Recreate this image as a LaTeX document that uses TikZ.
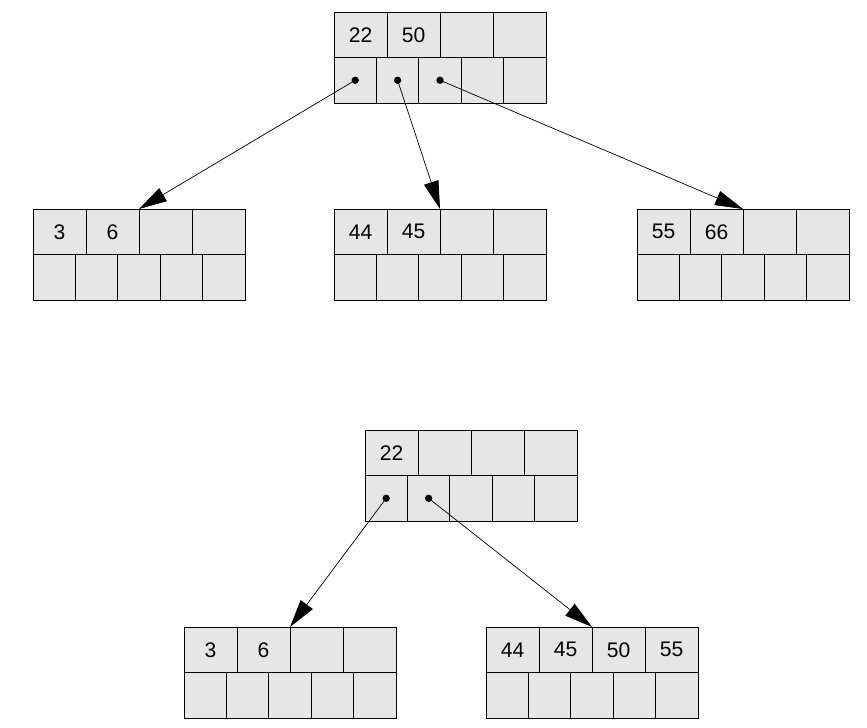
\documentclass[tikz,border=0pt]{standalone}
\usepackage{fontspec}
\setmainfont{Liberation Sans}
\usetikzlibrary{arrows.meta}
\definecolor{cellgray}{HTML}{E6E6E6}
\begin{document}
\begin{tikzpicture}[x=0.03cm, y=-0.03cm]
    % Define styles
    \tikzset{
        key/.style={
            draw,
            fill=cellgray,
            line width=0.6pt,
            inner sep=0pt,
            outer sep=0pt,
            anchor=north west,
            minimum width=1.59cm,
            minimum height=1.365cm,
            font=\fontsize{18}{20}\selectfont
        },
        ptr/.style={
            key,
            minimum width=1.272cm
        },
        dot/.style={
            circle,
            fill=black,
            inner sep=0pt,
            minimum size=2.2mm
        },
        link/.style={
            line width=0.6pt,
            -{Triangle[length=8.4mm, width=4.5mm]}
        }
    }
    \useasboundingbox (0,0) rectangle (867,728);

    % Tree before the split
    \begin{scope}[shift={(334,12)}, name prefix=r-]
        \foreach \k [count=\i] in {22,50,,}
            \node[key] (k\i) at ({53*(\i-1)},0) {\k};
        \foreach \i in {1,...,5}
            \node[ptr] (p\i) at ({42.4*(\i-1)},45.5) {};
        \foreach \i in {1,2,3}
            \node[dot] (d\i) at (p\i.center) {};
    \end{scope}

    \begin{scope}[shift={(33,209)}, name prefix=a-]
        \foreach \k [count=\i] in {3,6,,}
            \node[key] (k\i) at ({53*(\i-1)},0) {\k};
        \foreach \i in {1,...,5}
            \node[ptr] (p\i) at ({42.4*(\i-1)},45.5) {};
    \end{scope}

    \begin{scope}[shift={(334,209)}, name prefix=b-]
        \foreach \k [count=\i] in {44,45,,}
            \node[key] (k\i) at ({53*(\i-1)},0) {\k};
        \foreach \i in {1,...,5}
            \node[ptr] (p\i) at ({42.4*(\i-1)},45.5) {};
    \end{scope}

    \begin{scope}[shift={(637,209)}, name prefix=c-]
        \foreach \k [count=\i] in {55,66,,}
            \node[key] (k\i) at ({53*(\i-1)},0) {\k};
        \foreach \i in {1,...,5}
            \node[ptr] (p\i) at ({42.4*(\i-1)},45.5) {};
    \end{scope}

    \draw[link] (r-d1.center) -- (a-k2.north east);
    \draw[link] (r-d2.center) -- (b-k2.north east);
    \draw[link] (r-d3.center) -- (c-k2.north east);

    % Tree after the merge
    \begin{scope}[shift={(365,430)}, name prefix=s-]
        \foreach \k [count=\i] in {22,,,}
            \node[key] (k\i) at ({53*(\i-1)},0) {\k};
        \foreach \i in {1,...,5}
            \node[ptr] (p\i) at ({42.4*(\i-1)},45.5) {};
        \foreach \i in {1,2}
            \node[dot] (d\i) at (p\i.center) {};
    \end{scope}

    \begin{scope}[shift={(184,627)}, name prefix=d-]
        \foreach \k [count=\i] in {3,6,,}
            \node[key] (k\i) at ({53*(\i-1)},0) {\k};
        \foreach \i in {1,...,5}
            \node[ptr] (p\i) at ({42.4*(\i-1)},45.5) {};
    \end{scope}

    \begin{scope}[shift={(486,627)}, name prefix=e-]
        \foreach \k [count=\i] in {44,45,50,55}
            \node[key] (k\i) at ({53*(\i-1)},0) {\k};
        \foreach \i in {1,...,5}
            \node[ptr] (p\i) at ({42.4*(\i-1)},45.5) {};
    \end{scope}

    \draw[link] (s-d1.center) -- (d-k2.north east);
    \draw[link] (s-d2.center) -- (e-k2.north east);

\end{tikzpicture}
\end{document}
